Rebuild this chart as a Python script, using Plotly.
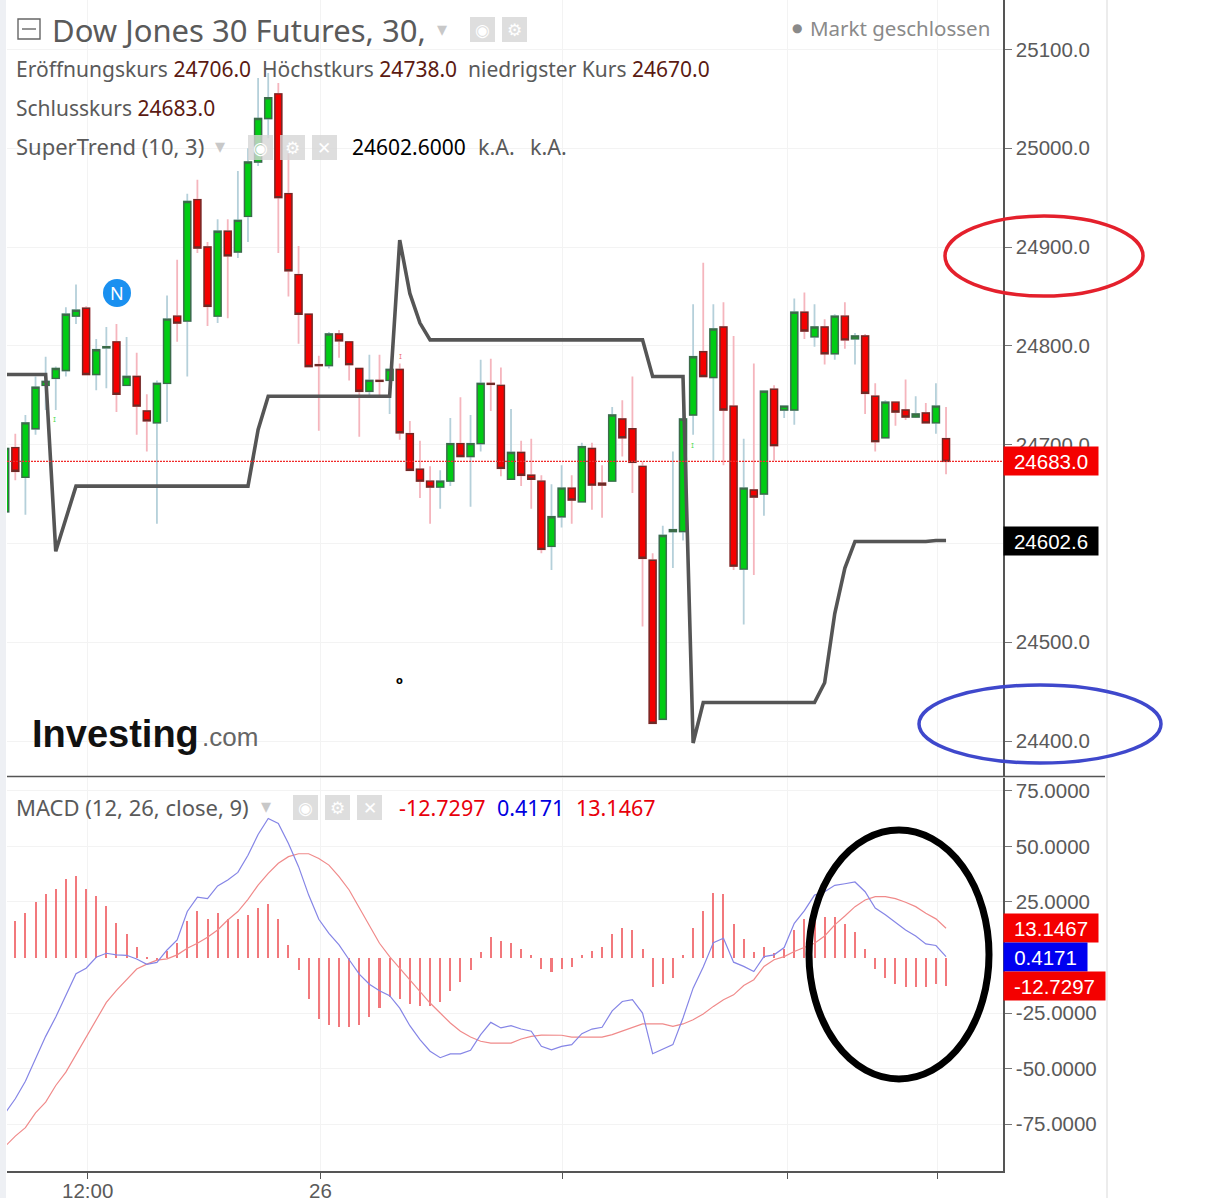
import plotly.graph_objects as go

# candle index, -1 is the candle cut off by the left edge
candles = list(range(-1, 93))

open_ = [24632, 24697, 24667, 24716, 24760, 24767, 24775, 24830, 24838, 24771, 24798, 24804, 24760, 24769, 24734, 24722,
         24762, 24830, 24825, 24948, 24900, 24830, 24916, 24895, 24931, 24986, 25030, 25055, 24954, 24872, 24832, 24781,
         24780, 24812, 24804, 24777, 24754, 24765, 24765, 24776, 24711, 24675, 24663, 24657, 24663, 24701, 24688, 24701,
         24762, 24760, 24665, 24692, 24669, 24663, 24597, 24627, 24656, 24642, 24696, 24661, 24663, 24726, 24716, 24678,
         24583, 24422, 24612, 24612, 24730, 24794, 24768, 24819, 24739, 24574, 24654, 24650, 24756, 24735, 24735, 24834,
         24809, 24819, 24792, 24830, 24807, 24810, 24749, 24707, 24743, 24735, 24728, 24732, 24722, 24706]
high = [24696, 24711, 24730, 24769, 24789, 24779, 24839, 24862, 24840, 24807, 24819, 24822, 24809, 24793, 24751, 24765,
        24851, 24887, 24954, 24968, 24905, 24928, 24928, 24977, 25000, 25071, 25076, 25066, 24995, 24901, 24832, 24790,
        24814, 24816, 24804, 24777, 24791, 24791, 24776, 24782, 24724, 24704, 24678, 24674, 24727, 24748, 24730, 24786,
        24787, 24778, 24736, 24704, 24706, 24669, 24660, 24679, 24669, 24702, 24702, 24679, 24738, 24745, 24769, 24683,
        24590, 24618, 24693, 24743, 24842, 24884, 24842, 24844, 24810, 24706, 24782, 24754, 24760, 24739, 24848, 24854,
        24842, 24827, 24832, 24844, 24813, 24812, 24762, 24745, 24743, 24766, 24749, 24742, 24762, 24738]
low = [24632, 24664, 24629, 24710, 24735, 24735, 24769, 24822, 24771, 24755, 24757, 24733, 24760, 24710, 24693, 24620,
       24723, 24804, 24769, 24894, 24820, 24823, 24828, 24889, 24905, 24982, 25010, 24894, 24850, 24802, 24779, 24714,
       24777, 24788, 24765, 24708, 24748, 24749, 24731, 24705, 24673, 24646, 24620, 24635, 24658, 24688, 24637, 24693,
       24734, 24668, 24665, 24658, 24635, 24590, 24573, 24616, 24620, 24642, 24634, 24626, 24663, 24688, 24651, 24516,
       24418, 24422, 24575, 24603, 24710, 24769, 24684, 24679, 24573, 24518, 24568, 24628, 24684, 24727, 24720, 24807,
       24799, 24781, 24786, 24797, 24781, 24731, 24693, 24707, 24719, 24725, 24727, 24722, 24711, 24670]
close = [24696, 24673, 24722, 24758, 24764, 24777, 24832, 24836, 24771, 24796, 24799, 24751, 24769, 24739, 24724, 24762,
         24827, 24823, 24946, 24899, 24840, 24916, 24891, 24927, 24986, 25030, 25051, 24950, 24876, 24832, 24779, 24780,
         24812, 24805, 24781, 24754, 24765, 24764, 24776, 24712, 24674, 24663, 24657, 24663, 24701, 24688, 24701, 24762,
         24761, 24676, 24692, 24669, 24665, 24594, 24627, 24656, 24644, 24698, 24659, 24659, 24730, 24707, 24682, 24585,
         24418, 24608, 24614, 24726, 24789, 24769, 24817, 24735, 24577, 24656, 24647, 24754, 24699, 24739, 24834, 24815,
         24819, 24792, 24830, 24806, 24810, 24752, 24703, 24743, 24733, 24728, 24731, 24722, 24739, 24683]
supertrend = [24771, 24771, 24771, 24771, 24771, 24592, 24624, 24658, 24658, 24658, 24658, 24658, 24658, 24658, 24658, 24658,
              24658, 24658, 24658, 24658, 24658, 24658, 24658, 24658, 24658, 24715, 24749, 24749, 24749, 24749, 24749, 24749,
              24749, 24749, 24749, 24749, 24749, 24749, 24749, 24907, 24853, 24823, 24806, 24806, 24806, 24806, 24806, 24806,
              24806, 24806, 24806, 24806, 24806, 24806, 24806, 24806, 24806, 24806, 24806, 24806, 24806, 24806, 24806, 24806,
              24769, 24769, 24769, 24769, 24398, 24439, 24439, 24439, 24439, 24439, 24439, 24439, 24439, 24439, 24439, 24439,
              24439, 24459, 24529, 24575, 24602, 24602, 24602, 24602, 24602, 24602, 24602, 24602, 24603, 24603]

# MACD pane, same candle index
macd = [-70.0, -63.6, -55.7, -45.2, -35.5, -26.8, -17.2, -7.3, -4.8, 0.1, 1.9, 1.2, 1.0, -0.7, -3.1, -2.2,
        3.4, 7.9, 20.7, 27.2, 26.5, 32.2, 34.9, 38.3, 46.0, 55.4, 62.6, 60.3, 51.3, 40.9, 28.1, 17.2,
        10.9, 5.7, -1.0, -7.5, -12.0, -15.0, -17.2, -22.8, -30.7, -37.0, -42.2, -45.1, -43.4, -43.4, -41.8, -34.7,
        -29.2, -31.7, -30.7, -32.2, -33.2, -40.0, -41.6, -40.0, -39.2, -34.3, -32.2, -31.4, -24.0, -19.8, -19.0, -25.0,
        -43.3, -41.2, -39.2, -27.2, -13.8, -4.3, 6.7, 8.7, -2.1, -4.0, -6.3, 0.4, 1.2, 4.5, 15.4, 21.1,
        28.1, 29.6, 32.5, 33.2, 34.0, 29.6, 22.3, 19.2, 15.7, 12.4, 9.7, 6.1, 5.4, 0.4171]
signal = [-85.0, -80.4, -76.6, -69.9, -65.1, -57.6, -51.6, -43.7, -35.5, -28.0, -20.2, -14.8, -10.0, -5.2, -3.0, -1.2,
          -0.6, 1.2, 4.2, 6.4, 9.1, 12.4, 16.9, 20.7, 26.2, 32.6, 37.9, 42.4, 45.4, 46.7, 46.7, 44.6,
          41.6, 36.4, 30.4, 22.2, 14.7, 6.4, 0.4, -4.8, -10.0, -15.3, -20.5, -25.0, -29.5, -33.2, -35.8, -37.7,
          -38.5, -38.5, -38.5, -36.7, -35.5, -34.9, -34.9, -35.0, -35.8, -35.8, -35.8, -35.8, -34.7, -33.2, -31.4, -29.9,
          -29.9, -29.9, -31.0, -29.9, -28.0, -25.4, -22.0, -19.0, -16.8, -12.6, -10.0, -4.0, -1.0, 0.4, 2.7, 4.5,
          6.4, 9.7, 14.7, 18.7, 22.9, 25.9, 27.4, 27.4, 26.5, 24.9, 22.9, 19.9, 17.4, 13.1467]
hist = [16.6, 19.9, 25.0, 28.4, 31.0, 35.2, 36.8, 31.0, 27.5, 23.4, 15.7, 10.6, 4.8, -0.5, -1.0, 3.1,
        6.4, 16.6, 20.8, 17.5, 19.9, 17.5, 17.5, 19.2, 22.5, 24.3, 17.5, 5.7, -5.8, -18.6, -27.8, -30.4,
        -31.1, -31.1, -30.4, -26.9, -22.8, -17.7, -18.6, -21.1, -22.0, -22.0, -20.2, -15.1, -10.9, -5.8, 2.4, 9.1,
        7.3, 6.4, 3.9, 1.3, -5.1, -6.7, -5.1, -4.3, 1.3, 3.1, 4.8, 10.8, 13.2, 12.4, 3.9, -13.3,
        -11.8, -9.3, 1.3, 13.2, 20.8, 29.2, 28.4, 15.0, 8.2, 2.4, 4.8, 2.2, 3.9, 12.4, 17.5, 17.5,
        18.3, 18.3, 15.0, 11.5, 3.9, -5.1, -9.3, -11.8, -13.3, -13.3, -13.3, -11.8, -12.7297]
hist_idx = list(range(0, 93))

price_ticks = [24400, 24500, 24600, 24700, 24800, 24900, 25000, 25100]
macd_ticks = [-75, -50, -25, 25, 50, 75]
macd_labels = ["-75.0000", "-50.0000", "-25.0000", "25.0000", "50.0000", "75.0000"]
time_ticks = [7.1, 30.2, 54.1, 76.3, 91.2]
time_labels = ["12:00", "26", "", "", ""]

W, H = 1230, 1206
GREY = "#5a5a5a"
DARK = "#5b1a12"
AXIS_FONT = "Liberation Sans"
TEXT_FONT = "Noto Sans"


def px(x):
    return x / W


def py(y):
    return 1 - y / H


# bodies sit on a second candlestick layer so the wicks can stay pale
body_high = [max(o, c) for o, c in zip(open_, close)]
body_low = [min(o, c) for o, c in zip(open_, close)]

fig = go.Figure()
fig.add_trace(go.Candlestick(
    x=candles, open=open_, high=high, low=low, close=close,
    increasing=dict(line=dict(color="#b5d0da", width=1.8), fillcolor="#b5d0da"),
    decreasing=dict(line=dict(color="#f5b5bd", width=1.8), fillcolor="#f5b5bd"),
    xaxis="x", yaxis="y", showlegend=False))
fig.add_trace(go.Candlestick(
    x=candles, open=open_, high=body_high, low=body_low, close=close,
    increasing=dict(line=dict(color="#3c6b48", width=1.4), fillcolor="#00cc14"),
    decreasing=dict(line=dict(color="#6e2a26", width=1.4), fillcolor="#f40000"),
    xaxis="x", yaxis="y", showlegend=False))
fig.add_trace(go.Scatter(x=candles, y=supertrend, mode="lines",
                         line=dict(color="#555555", width=3.6),
                         xaxis="x", yaxis="y", showlegend=False))

fig.add_trace(go.Bar(x=hist_idx, y=hist, width=0.2, marker=dict(color="#f2787c", line=dict(width=0)),
                     xaxis="x2", yaxis="y2", showlegend=False))
fig.add_trace(go.Scatter(x=candles, y=signal, mode="lines", line=dict(color="#f08a8a", width=1.2),
                         xaxis="x2", yaxis="y2", showlegend=False))
fig.add_trace(go.Scatter(x=candles, y=macd, mode="lines", line=dict(color="#8585e6", width=1.2),
                         xaxis="x2", yaxis="y2", showlegend=False))

shapes = [
    # page furniture
    dict(type="rect", xref="paper", yref="paper", x0=0, x1=px(6), y0=0, y1=1,
         fillcolor="#eef0f4", line_width=0, layer="below"),
    dict(type="line", xref="paper", yref="paper", x0=px(1107), x1=px(1107), y0=0, y1=1,
         line=dict(color="#e6e6e6", width=1.5), layer="below"),
    dict(type="line", xref="paper", yref="paper", x0=px(7), x1=px(1105), y0=py(776.5), y1=py(776.5),
         line=dict(color="#555555", width=1.5)),
    # last price line
    dict(type="line", xref="x", yref="y", x0=-0.82, x1=97.63, y0=close[-1], y1=close[-1],
         line=dict(color="#f02a2a", width=1.2, dash="2px,1px")),
    # collapse button
    dict(type="rect", xref="paper", yref="paper", x0=px(18), x1=px(40), y0=py(19), y1=py(39),
         line=dict(color="#666666", width=1.4)),
    dict(type="line", xref="paper", yref="paper", x0=px(22), x1=px(36), y0=py(29), y1=py(29),
         line=dict(color="#666666", width=1.4)),
    # hand drawn ellipses
    dict(type="circle", xref="paper", yref="paper", x0=px(945), x1=px(1143), y0=py(216), y1=py(296),
         line=dict(color="#e4202c", width=3.5)),
    dict(type="circle", xref="paper", yref="paper", x0=px(919), x1=px(1161), y0=py(685), y1=py(763),
         line=dict(color="#3f48cc", width=3.5)),
    dict(type="circle", xref="paper", yref="paper", x0=px(809), x1=px(989), y0=py(830), y1=py(1079),
         line=dict(color="#000000", width=7)),
    # news badge
    dict(type="circle", xref="paper", yref="paper", x0=px(103), x1=px(131), y0=py(279), y1=py(307),
         fillcolor="#1a90f0", line_width=0),
]

annotations = []


def label(text, x, y, size, color=GREY, family=TEXT_FONT, bgcolor=None, xanchor="left", pad=0):
    annotations.append(dict(text=text, x=px(x), y=py(y), xref="paper", yref="paper", xanchor=xanchor,
                            yanchor="middle", showarrow=False, bgcolor=bgcolor, borderpad=pad,
                            font=dict(size=size, color=color, family=family)))


def tag(text, yref, value, color, width):
    annotations.append(dict(text=text, x=px(1003), y=value, xref="paper", yref=yref, xanchor="left",
                            yanchor="middle", showarrow=False, bgcolor=color, width=width, height=26,
                            align="center", font=dict(size=20.5, color="white", family=AXIS_FONT)))


def buttons(left, top, size, step, glyphs):
    for i, glyph in enumerate(glyphs):
        x0 = left + i * step
        shapes.append(dict(type="rect", xref="paper", yref="paper", x0=px(x0), x1=px(x0 + size),
                           y0=py(top), y1=py(top + size), fillcolor="rgba(214,214,214,0.8)", line_width=0))
        label(glyph, x0 + size / 2, top + size / 2, 17, color="white", family="DejaVu Sans", xanchor="center")


def val(s):
    return '<span style="color:%s">%s</span>' % (DARK, s)


label("Dow Jones 30 Futures, 30,", 51, 30, 31)
label("▾", 442, 29, 20, color="#c8c8c8", family="DejaVu Sans", xanchor="center")
buttons(470, 17, 25, 32, ["◉", "⚙"])
label("●", 797, 28, 12, color="#8a8a8a", family="DejaVu Sans", xanchor="center")
label("Markt geschlossen", 809, 28, 20.5, color="#8a8a8a")
label("Eröffnungskurs " + val("24706.0") + "  Höchstkurs " + val("24738.0")
      + "  niedrigster Kurs " + val("24670.0"), 15, 69, 21)
label("Schlusskurs " + val("24683.0"), 15, 108, 21)
label("SuperTrend (10, 3)", 15, 146, 22)
label("▾", 220, 146, 20, color="#c8c8c8", family="DejaVu Sans", xanchor="center")
buttons(248, 135, 25, 32, ["◉", "⚙", "✕"])
label("24602.6000", 351, 147, 21, color="#000000")
label("k.A.", 477, 147, 21.5)
label("k.A.", 529, 147, 21.5)
label("N", 117, 293, 18, color="white", xanchor="center")

label("MACD (12, 26, close, 9)", 15, 807, 22)
label("▾", 266, 806, 20, color="#c8c8c8", family="DejaVu Sans", xanchor="center")
buttons(293, 795, 25, 32, ["◉", "⚙", "✕"])
label("-12.7297", 398, 808, 21.5, color="#e8000b")
label("0.4171", 496, 808, 21.5, color="#0000e0")
label("13.1467", 575, 808, 21.5, color="#e8000b")

label("<b>Investing</b>", 31, 734, 38, color="#111111", family="Liberation Sans")
label(".com", 201, 737, 26, color="#666666", family="Liberation Sans")
label("<b>o</b>", 399, 680, 10, color="#000000", family="DejaVu Sans", xanchor="center")
label("ɪ", 54, 420, 8, color="#66e066", family="DejaVu Sans", xanchor="center")
label("ɪ", 692, 445, 8, color="#66e066", family="DejaVu Sans", xanchor="center")
label("ɪ", 400, 356, 8, color="#f08080", family="DejaVu Sans", xanchor="center")

# time labels sit closer to the axis than plotly's tick labels would
for tick, text in zip(time_ticks, time_labels):
    if text:
        annotations.append(dict(text=text, x=tick, xref="x2", y=py(1190), yref="paper", xanchor="center",
                                yanchor="middle", showarrow=False,
                                font=dict(size=20.5, color=GREY, family=AXIS_FONT)))

tag("24683.0", "y", close[-1], "#f40000", 92)
tag("24602.6", "y", 24602.6, "#000000", 92)
tag("13.1467", "y2", signal[-1], "#f40000", 92)
tag("0.4171", "y2", macd[-1], "#0000f0", 81)
tag("-12.7297", "y2", hist[-1], "#f40000", 99)

x_common = dict(range=[-0.82, 97.63], tickvals=time_ticks, showgrid=True, gridcolor="#f3f3f3",
                zeroline=False, rangeslider=dict(visible=False))
y_common = dict(side="right", showgrid=True, gridcolor="#f3f3f3", zeroline=False, showline=True,
                linecolor="#555555", linewidth=1.5, ticks="outside", ticklen=7, tickcolor="#777777",
                tickfont=dict(size=20.5, color=GREY, family=AXIS_FONT))

fig.update_layout(
    width=W, height=H,
    margin=dict(l=0, r=0, t=0, b=0),
    paper_bgcolor="white", plot_bgcolor="white",
    boxgap=0.02, bargap=0,
    showlegend=False,
    xaxis=dict(domain=[px(7), px(1003)], anchor="y", showticklabels=False, ticks="", **x_common),
    yaxis=dict(domain=[py(776), 1], range=[24364.6, 25150], anchor="x",
               tickvals=price_ticks, tickformat=".1f", **y_common),
    xaxis2=dict(domain=[px(7), px(1003)], anchor="y2", matches="x", showticklabels=False,
                ticks="outside", ticklen=6, tickcolor="#555555", showline=True,
                linecolor="#555555", linewidth=1.5, **x_common),
    yaxis2=dict(domain=[py(1171), py(778)], range=[-96.1, 80.8], anchor="x2",
                tickvals=macd_ticks, ticktext=macd_labels, **y_common),
    shapes=shapes,
    annotations=annotations,
)

fig.write_html("out.html", config={"displayModeBar": False},
               post_script="document.body.style.margin='0';")
